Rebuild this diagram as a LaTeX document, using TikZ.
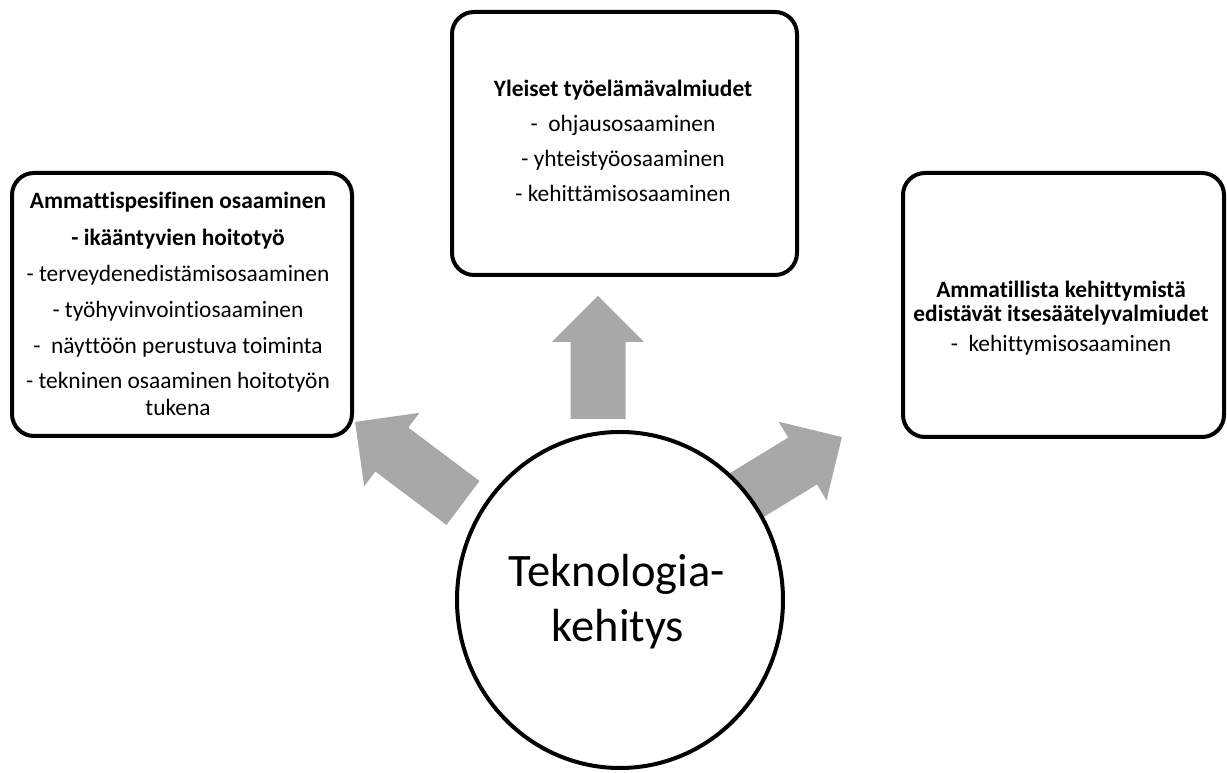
\documentclass[tikz,border=0pt]{standalone}
\usepackage{fontspec}
\setmainfont{Carlito}[Ligatures={NoCommon}]
\usetikzlibrary{shapes.geometric}
\definecolor{arrowgrey}{HTML}{A8A8A8}
\tikzset{
  panel/.style={draw=black, line width=4pt, rounded corners=22pt, fill=white, inner sep=0pt},
  hub/.style={ellipse, draw=black, line width=4pt, fill=white, inner sep=0pt,
              minimum width=326pt, minimum height=336pt},
  txt/.style={anchor=base, inner sep=0pt, font=\fontsize{23.4}{26}\selectfont},
  headtxt/.style={anchor=base, inner sep=0pt, font=\fontsize{23.4}{26}\selectfont\bfseries},
  hubtxt/.style={anchor=base, inner sep=0pt, font=\fontsize{46.5}{50}\selectfont},
  % broad grey block arrow of length #1, pointing along the local x axis
  blockarrow/.pic={
    \fill[arrowgrey] (0,-27.5) -- (#1-46,-27.5) -- (#1-46,-46) -- (#1,0)
      -- (#1-46,46) -- (#1-46,27.5) -- (0,27.5) -- cycle;
  }
}
\begin{document}
\begin{tikzpicture}[x=1pt,y=1pt]
\useasboundingbox (0,0) rectangle (1227,773);

% three competence panels
\node[panel, minimum width=340pt, minimum height=263pt] (spec) at (182,468.5) {};
\node[panel, minimum width=345pt, minimum height=263pt] (yleiset) at (624.5,629.5) {};
\node[panel, minimum width=321pt, minimum height=264pt] (itse) at (1063.5,468) {};

% left panel text
\node[headtxt] (specH) at (178,564) {Ammattispesifinen osaaminen};
\node[headtxt] (spec1) at (178,527) {- ikääntyvien hoitotyö};
\node[txt] (spec2) at (178,491) {- terveydenedistämisosaaminen};
\node[txt] (spec3) at (178,455) {- työhyvinvointiosaaminen};
\node[txt] (spec4) at (178,419) {-~ näyttöön perustuva toiminta};
\node[txt] (spec5) at (178,384) {- tekninen osaaminen hoitotyön};
\node[txt] (spec5b) at (178,357) {tukena};

% top panel text
\node[headtxt] (yleH) at (623,676) {Yleiset työelämävalmiudet};
\node[txt] (yle1) at (623,641) {-~ ohjausosaaminen};
\node[txt] (yle2) at (623,606) {- yhteistyöosaaminen};
\node[txt] (yle3) at (623,571) {- kehittämisosaaminen};

% right panel text
\node[headtxt] (itseH1) at (1061,475) {Ammatillista kehittymistä};
\node[headtxt] (itseH2) at (1061,451) {edistävät itsesäätelyvalmiudet};
\node[txt] (itse1) at (1061,421) {-~ kehittymisosaaminen};

% block arrows from the hub towards the panels
\pic[rotate=90] (upA) at (598,354) {blockarrow=123};
\pic[rotate=143.1] (leftA) at (463,270) {blockarrow=135};
\pic[rotate=31.4] (rightA) at (742,275) {blockarrow=117};

% central hub
\node[hub] (tek) at (620,173) {};
\node[hubtxt] (tek1) at (617,186) {Teknologia-};
\node[hubtxt] (tek2) at (618,131) {kehitys};
\end{tikzpicture}
\end{document}
